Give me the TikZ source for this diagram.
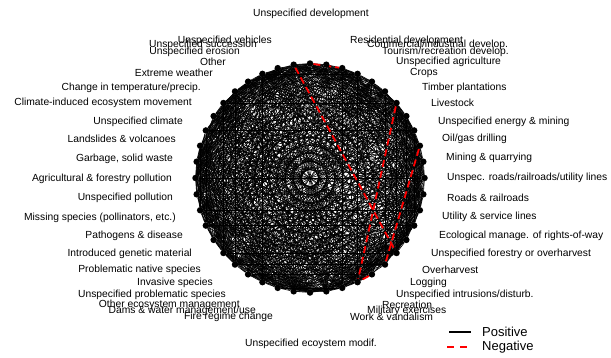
\documentclass[tikz,border=0pt]{standalone}
\usepackage{fontspec}
\setmainfont{Liberation Sans}
\usetikzlibrary{positioning}
\pgfdeclarelayer{edges}
\pgfsetlayers{edges,main}
\tikzset{
  vert/.style={circle, fill=black, inner sep=0pt, minimum size=6.5pt},
  posedge/.style={black, line width=0.6pt},
  negedge/.style={red, line width=1.8pt, dash pattern=on 7pt off 4pt},
  lab/.style={font=\fontsize{10.3}{12}\selectfont, inner sep=0pt},
  keylab/.style={font=\fontsize{13}{14}\selectfont, inner sep=0pt, anchor=west},
}
\begin{document}
\begin{tikzpicture}[x=1pt, y=-1pt]
\useasboundingbox (0,0) rectangle (611,357);
% threats on the circle, clockwise from the top
\foreach \k in {0,...,43}
  \node[vert] (v\k) at ({310+114.5*cos(90-360*\k/44)}, {178-114.5*sin(90-360*\k/44)}) {};

% co-occurrence links
\begin{pgfonlayer}{edges}
\pgfmathsetseed{11}
\foreach \i in {0,...,42}{
  \pgfmathtruncatemacro\jfrom{\i+1}
  \foreach \j in {\jfrom,...,43}{
    \pgfmathtruncatemacro\keep{rnd<0.66}
    \ifnum\keep=1 \draw[posedge] (v\i) -- (v\j); \fi
  }
}
\draw[negedge] (v0) -- (v2);
\draw[negedge] (v43) -- (v16);
\draw[negedge] (v6) -- (v19);
\draw[negedge] (v9) -- (v17);
\draw[negedge] (v18) -- (v19);
\end{pgfonlayer}

% labels
\node[lab] (l0) at (311,14) {Unspecified development};
\node[lab] (l22) at (311,344) {Unspecified ecoystem modif.};
\foreach \k/\x/\y/\t in {
  1/350/41/{Residential development},
  2/367/45/{Commercial/industrial develop.},
  3/382/52/{Tourism/recreation develop.},
  4/396/62/{Unspecified agriculture},
  5/410/73/{Crops},
  6/422/88/{Timber plantations},
  7/431/103/{Livestock},
  8/438/122/{Unspecified energy \& mining},
  9/442/139/{Oil/gas drilling},
  10/446/158/{Mining \& quarrying},
  11/447/178/{Unspec. roads/railroads/utility lines},
  12/447/198/{Roads \& railroads},
  13/442/217/{Utility \& service lines},
  14/439/236/{Ecological manage. of rights-of-way},
  15/431/254/{Unspecified forestry or overharvest},
  16/422/270/{Overharvest},
  17/410/283/{Logging},
  18/396/295/{Unspecified intrusions/disturb.},
  19/382/305/{Recreation},
  20/367/311/{Military exercises},
  21/350/317/{Work \& vandalism}}
  \node[lab, anchor=west] (l\k) at (\x,\y) {\t};
\foreach \k/\x/\y/\t in {
  23/273/317/{Fire regime change},
  24/256/311/{Dams \& water management/use},
  25/240/305/{Other ecosystem management},
  26/226/295/{Unspecified problematic species},
  27/213/283/{Invasive species},
  28/201/270/{Problematic native species},
  29/192/254/{Introduced genetic material},
  30/183/236/{Pathogens \& disease},
  31/176/218/{Missing species (pollinators, etc.)},
  32/173/198/{Unspecified pollution},
  33/172/179/{Agricultural \& forestry pollution},
  34/173/159/{Garbage, solid waste},
  35/176/139/{Landslides \& volcanoes},
  36/183/122/{Unspecified climate},
  37/192/103/{Climate-induced ecosystem movement},
  38/201/88/{Change in temperature/precip.},
  39/213/73/{Extreme weather},
  40/226/62/{Other},
  41/240/52/{Unspecified erosion},
  42/257/45/{Unspecified succession},
  43/272/41/{Unspecified vehicles}}
  \node[lab, anchor=east] (l\k) at (\x,\y) {\t};

% key
\coordinate (posA) at (449,332);
\coordinate (posB) at (471,332);
\draw[black, line width=1.3pt] (posA) -- (posB);
\node[keylab, right=11pt of posB] (posL) {Positive};
\coordinate (negA) at (447,347);
\coordinate (negB) at (469,347);
\draw[red, line width=1.3pt, dash pattern=on 7pt off 6pt] (negA) -- (negB);
\node[keylab, right=13pt of negB] (negL) {Negative};
\end{tikzpicture}
\end{document}
